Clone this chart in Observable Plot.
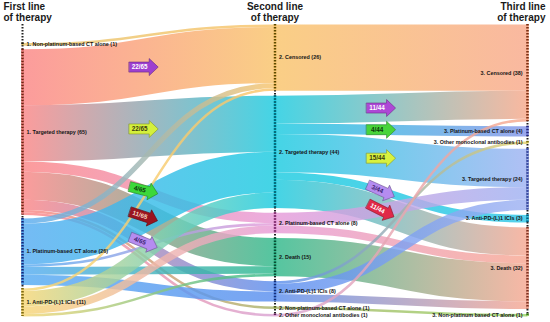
<!DOCTYPE html>
<html><head><meta charset="utf-8">
<script src="https://cdn.jsdelivr.net/npm/d3@7"></script>
<script src="https://cdn.jsdelivr.net/npm/@observablehq/plot@0.6"></script>
<style>html,body{margin:0;padding:0;background:#fff;}</style>
</head><body><div id="chart"></div>
<script>
// ---------- data ----------
const stageTitles = ["First line\nof therapy", "Second line\nof therapy", "Third line\nof therapy"];
const line1Nodes = ["Non-platinum-based CT alone", "Targeted therapy", "Platinum-based CT alone", "Anti-PD-(L)1 ICIs"];
const line2Nodes = ["Censored", "Targeted therapy", "Platinum-based CT alone", "Death", "Anti-PD-(L)1 ICIs", "Non-platinum-based CT alone", "Other monoclonal antibodies"];
const line3Nodes = ["Censored", "Platinum-based CT alone", "Other monoclonal antibodies", "Targeted therapy", "Anti-PD-(L)1 ICIs", "Death", "Non-platinum based CT alone"];
// [source index, target index, patients]
const flows12 = [
  [0,0,1],
  [1,0,22],[1,1,22],[1,2,4],[1,3,11],[1,4,4],[1,5,1],[1,6,1],
  [2,0,2],[2,1,16],[2,2,1],[2,3,3],[2,4,4],
  [3,0,1],[3,1,6],[3,2,3],[3,3,1]
];
const flows23 = [
  [0,0,26],
  [1,0,11],[1,1,4],[1,3,15],[1,4,3],[1,5,11],
  [2,3,5],[2,5,3],
  [3,5,15],
  [4,2,1],[4,3,4],[4,5,3],
  [5,6,1],
  [6,0,1]
];
// labelled arrows: [transition, source index, target index]
const arrowFlows = [[0,1,0],[0,1,1],[0,1,2],[0,1,3],[0,1,4],[1,1,0],[1,1,1],[1,1,3],[1,1,4],[1,1,5]];

// ---------- styles ----------
const nodeColors = [
  ["#e6c56e", "#fb8686", "#56acf2", "#f6d676"],
  ["#f9c46b", "#1bcbe0", "#e79bd8", "#2fb98b", "#5b8fef", "#a9b56a", "#d9a3d3"],
  ["#f8a98b", "#8494e8", "#e4d36c", "#9fb2f2", "#2fc6e6", "#f7a892", "#9cd66a"]
];
const dotColors = [
  ["#111111", "#6b2410", "#15237a", "#7d6a12"],
  ["#5c4a00", "#004f5c", "#6e1a5a", "#0b4d33", "#17307a", "#4d5a10", "#5e1f55"],
  ["#7a2e10", "#22237a", "#7a7010", "#1e2e8a", "#00577a", "#7a2e1e", "#2e6e10"]
];
const arrowFill = ["#9e3fcf", "#d4f03c", "#3cd83a", "#9a1420", "#b58cf0", "#ad48d6", "#48d43a", "#d8f23e", "#b58cf0", "#e02848"];
const arrowInk  = ["#ffffff", "#3a3a10", "#0c3a0c", "#f4d7c0", "#3c1f70", "#ffffff", "#0c3a0c", "#3a3a10", "#3c1f70", "#ffffff"];
const FONT = "Liberation Sans, Arial, Helvetica, sans-serif";

// ---------- layout ----------
const cols = [line1Nodes, line2Nodes, line3Nodes];
const flows = [flows12, flows23];
const totals = cols.map((c, s) => c.map((_, i) => s < 2
  ? d3.sum(flows[s].filter(f => f[0] === i), f => f[2])
  : d3.sum(flows[1].filter(f => f[1] === i), f => f[2])));
const SPAN = 114.5;
const nodeY0 = cols.map((c, s) => {
  const t = totals[s], sum = d3.sum(t);
  const pad = s === 0 ? 1.4 : (SPAN - sum) / (c.length - 1);
  let y = SPAN - sum - pad * (c.length - 1);
  return t.map(v => { const y0 = y; y += v + pad; return y0; });
});

const xs = Plot.scale({x: {domain: [0, 2], range: [22, 527]}});
const ys = Plot.scale({y: {domain: [0, SPAN], range: [24, 316]}});
const k = ys.apply(1) - ys.apply(0);

const nodes = [];
cols.forEach((names, s) => names.forEach((name, i) => {
  nodes.push({s, i, y0: nodeY0[s][i], y1: nodeY0[s][i] + totals[s][i],
    mid: nodeY0[s][i] + totals[s][i] / 2,
    label: `${s + 1}. ${name} (${totals[s][i]})`, color: nodeColors[s][i], dot: dotColors[s][i]});
}));

const links = [];
flows.forEach((fl, s) => {
  const items = fl.map(([a, b, v]) => ({s, a, b, v}));
  const outOff = cols[s].map(() => 0);
  items.slice().sort((p, q) => p.a - q.a || p.b - q.b).forEach(l => { l.sy = nodeY0[s][l.a] + outOff[l.a] + l.v / 2; outOff[l.a] += l.v; });
  const inOff = cols[s + 1].map(() => 0);
  items.slice().sort((p, q) => p.b - q.b || p.a - q.a).forEach(l => { l.ty = nodeY0[s + 1][l.b] + inOff[l.b] + l.v / 2; inOff[l.b] += l.v; });
  items.forEach(l => { l.id = links.length; l.c0 = nodeColors[s][l.a]; l.c1 = nodeColors[s + 1][l.b]; l.x1 = s; l.x2 = s + 1; links.push(l); });
});

const arrowAt = [0.48, 0.42];
const tiltScale = [0.65, 1.4];
const arrows = arrowFlows.map(([s, a, b], j) => {
  const l = links.find(l => l.s === s && l.a === a && l.b === b);
  const f = arrowAt[s];
  let lo = 0, hi = 1;
  for (let it = 0; it < 40; it++) { const t = (lo + hi) / 2; if (1.5 * t * (1 - t) + t * t * t < f) lo = t; else hi = t; }
  const t = (lo + hi) / 2;
  const X0 = xs.apply(s), X1 = xs.apply(s + 1), Y0 = ys.apply(l.sy), Y1 = ys.apply(l.ty);
  const px = X0 + (X1 - X0) * f, py = Y0 + (Y1 - Y0) * (3 * t * t - 2 * t * t * t);
  const slope = (Y1 - Y0) * (6 * t - 6 * t * t) / ((X1 - X0) * (1.5 - 3 * t + 3 * t * t));
  let deg = Math.atan(slope) * 180 / Math.PI;
  deg = Math.abs(deg) < 10 ? 0 : deg * tiltScale[s];
  const ang = deg * Math.PI / 180;
  const tpx = px - 4 * Math.cos(ang), tpy = py - 4 * Math.sin(ang);
  return {x: xs.invert(px), y: ys.invert(py), tx: xs.invert(tpx), ty: ys.invert(tpy),
    rot: deg, text: `${l.v}/${totals[s][a]}`,
    fill: arrowFill[j], ink: arrowInk[j], edge: d3.color(arrowFill[j]).darker(1.3).formatHex()};
});

const arrowShape = {
  draw(ctx, l) {
    const w = 10, h = 17, hl = 9;
    ctx.moveTo(-w / 2, 0);
    ctx.lineTo(-w / 2, -(l - hl));
    ctx.lineTo(-h / 2, -(l - hl));
    ctx.lineTo(0, -l);
    ctx.lineTo(h / 2, -(l - hl));
    ctx.lineTo(w / 2, -(l - hl));
    ctx.lineTo(w / 2, 0);
    ctx.closePath();
  }
};

const plot = Plot.plot({
  width: 550, height: 322,
  marginTop: 0, marginRight: 0, marginBottom: 0, marginLeft: 0,
  x: {domain: [0, 2], range: [22, 527], axis: null},
  y: {domain: [0, SPAN], range: [24, 316], axis: null},
  color: {type: "identity"},
  style: {fontFamily: FONT, background: "#fff"},
  marks: [
    Plot.link(links, {x1: "x1", y1: "sy", x2: "x2", y2: "ty", curve: "bump-x",
      stroke: d => `url(#lg${d.id})`, strokeWidth: d => d.v * k, strokeOpacity: 0.82}),
    Plot.ruleX([0, 1, 2], {x: d => d, y1: 0, y2: SPAN, stroke: "#222", strokeWidth: 2, strokeDasharray: "1.5 1.5"}),
    Plot.ruleX(nodes, {x: "s", y1: "y0", y2: "y1", stroke: "color", strokeWidth: 2.4}),
    Plot.ruleX(nodes, {x: "s", y1: "y0", y2: "y1", stroke: "dot", strokeWidth: 2.4, strokeDasharray: "1.5 1.5"}),
    Plot.text(nodes.filter(d => d.s < 2), {x: "s", y: "mid", text: "label", textAnchor: "start", dx: 4,
      fontSize: 5.4, fontWeight: "bold", fill: "#151515"}),
    Plot.text(nodes.filter(d => d.s === 2), {x: "s", y: "mid", text: "label", textAnchor: "end", dx: -5,
      fontSize: 5.4, fontWeight: "bold", fill: "#151515"}),
    Plot.vector(arrows, {x: "x", y: "y", rotate: d => 90 + d.rot, length: 29, anchor: "middle",
      shape: arrowShape, fill: "fill", stroke: "edge", strokeWidth: 0.6}),
    Plot.text(arrows, {x: "tx", y: "ty", text: "text", rotate: "rot", fill: "ink",
      fontSize: 6.3, fontWeight: "bold"}),
    Plot.text([stageTitles[0]], {x: () => 0, frameAnchor: "top", lineAnchor: "top", textAnchor: "start", dx: -19, dy: 2,
      text: d => d, fontSize: 10, fontWeight: "bold", lineHeight: 1.1, fill: "#1a1a1a"}),
    Plot.text([stageTitles[1]], {x: () => 1, frameAnchor: "top", lineAnchor: "top", textAnchor: "middle", dy: 2,
      text: d => d, fontSize: 10, fontWeight: "bold", lineHeight: 1.1, fill: "#1a1a1a"}),
    Plot.text([stageTitles[2]], {x: () => 2, frameAnchor: "top", lineAnchor: "top", textAnchor: "end", dx: 18, dy: 2,
      text: d => d, fontSize: 10, fontWeight: "bold", lineHeight: 1.1, fill: "#1a1a1a"})
  ]
});

const NS = "http://www.w3.org/2000/svg";
const defs = document.createElementNS(NS, "defs");
links.forEach(l => {
  const g = document.createElementNS(NS, "linearGradient");
  g.setAttribute("id", "lg" + l.id);
  g.setAttribute("gradientUnits", "userSpaceOnUse");
  g.setAttribute("x1", xs.apply(l.s)); g.setAttribute("x2", xs.apply(l.s + 1));
  g.setAttribute("y1", 0); g.setAttribute("y2", 0);
  [[0, l.c0], [1, l.c1]].forEach(([o, c]) => {
    const st = document.createElementNS(NS, "stop");
    st.setAttribute("offset", o); st.setAttribute("stop-color", c);
    g.appendChild(st);
  });
  defs.appendChild(g);
});
plot.insertBefore(defs, plot.firstChild);
document.getElementById("chart").appendChild(plot);
</script>
</body></html>
